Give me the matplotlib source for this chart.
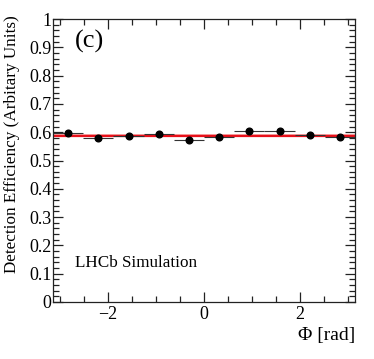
import numpy as np
import matplotlib.pyplot as plt
from matplotlib.ticker import MultipleLocator

# bin edges over -pi..pi, 10 bins
phi_edges = np.linspace(-np.pi, np.pi, 11)
phi_centres = 0.5 * (phi_edges[1:] + phi_edges[:-1])
eff = [0.597, 0.581, 0.587, 0.595, 0.571, 0.583, 0.604, 0.604, 0.589, 0.584]
eff_err = [0.004, 0.004, 0.004, 0.004, 0.004, 0.004, 0.004, 0.004, 0.004, 0.004]
fit_val = 0.588
fit_err = 0.004

plt.rcParams['font.family'] = ['Liberation Serif', 'DejaVu Serif']

fig = plt.figure(figsize=(3.74, 3.59), dpi=100)
ax = fig.add_axes([53/374, 1 - 302/359, 302/374, 283/359])

xerr = 0.5 * (phi_edges[1:] - phi_edges[:-1])
ax.fill_between([-np.pi, np.pi], fit_val - fit_err, fit_val + fit_err,
                color='#f6a8a8', lw=0, zorder=1)
ax.axhline(fit_val, color='#e8101a', lw=1.6, zorder=2)
ax.errorbar(phi_centres, eff, xerr=xerr, yerr=eff_err, fmt='o', color='black',
            ecolor='#333333', elinewidth=0.8, ms=4.8, capsize=0, zorder=3)

ax.set_xlim(-np.pi, np.pi)
ax.set_ylim(0, 1)
ax.xaxis.set_minor_locator(MultipleLocator(0.5))
ax.yaxis.set_minor_locator(MultipleLocator(0.02))
ax.set_yticks(np.arange(0, 1.01, 0.1))
ax.set_yticklabels(['0', '0.1', '0.2', '0.3', '0.4', '0.5', '0.6', '0.7', '0.8', '0.9', '1'])
ax.set_xticks([-2, 0, 2])
ax.set_xticklabels(['\u22122', '0', '2'])
ax.tick_params(which='both', direction='in', top=True, right=True, labelsize=13,
               color='#222222', width=0.9)
ax.tick_params(which='major', length=7, pad=3)
ax.tick_params(which='minor', length=4)
ax.tick_params(axis='y', which='major', pad=1)
for s in ax.spines.values():
    s.set_color('#222222')
    s.set_linewidth(0.9)

ax.set_xlabel('\u03a6 [rad]', fontsize=14, loc='right', labelpad=3)
ax.set_ylabel('Detection Efficiency (Arbitary Units)', fontsize=12.3)
ax.yaxis.set_label_coords(-0.108, 0.558)

ax.text(0.073, 0.922, '(c)', transform=ax.transAxes, fontsize=19, va='center', ha='left')
ax.text(0.073, 0.137, 'LHCb Simulation', transform=ax.transAxes, fontsize=12.3,
        va='center', ha='left')

fig.savefig('out.png', dpi=100)
